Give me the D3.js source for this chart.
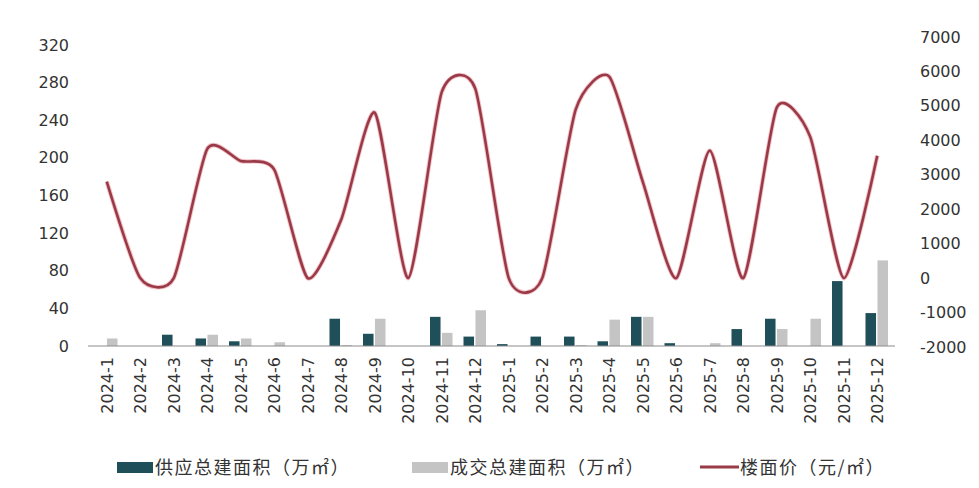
<!DOCTYPE html>
<html>
<head>
<meta charset="utf-8">
<script src="https://cdn.jsdelivr.net/npm/d3@7"></script>
<style>
  body { margin: 0; background: #fff; }
  text { font-family: "DejaVu Sans", sans-serif; fill: #333; }
  .cjk { font-family: "Noto Sans CJK SC", sans-serif; letter-spacing: 1.5px; }
</style>
</head>
<body>
<svg id="chart" width="979" height="488"></svg>
<script>
// months on the x axis
const months = ['2024-1','2024-2','2024-3','2024-4','2024-5','2024-6','2024-7','2024-8','2024-9','2024-10','2024-11','2024-12',
  '2025-1','2025-2','2025-3','2025-4','2025-5','2025-6','2025-7','2025-8','2025-9','2025-10','2025-11','2025-12'];
// 供应总建面积 (万㎡)
const supply = [0, 0, 12, 8, 5, 0, 0, 29, 13, 0, 31, 10, 2, 10, 10, 5, 31, 3, 0, 18, 29, 0, 69, 35];
// 成交总建面积 (万㎡)
const deal = [8, 0, 0, 12, 8, 4, 0, 1, 29, 0, 14, 38, 0, 0, 1, 28, 31, 0, 3, 0, 18, 29, 0, 91];
// 楼面价 (元/㎡)
const price = [2800, 0, 0, 3750, 3400, 3150, 0, 1700, 4800, 0, 5400, 5500, 0, 0, 4900, 5850, 2800, 0, 3700, 0, 4950, 4100, 0, 3550];
const leftTicks = [0, 40, 80, 120, 160, 200, 240, 280, 320];
const rightTicks = [-2000, -1000, 0, 1000, 2000, 3000, 4000, 5000, 6000, 7000];
const legendNames = ['供应总建面积（万㎡）', '成交总建面积（万㎡）', '楼面价（元/㎡）'];

const svg = d3.select('#chart');

const x = d3.scaleBand().domain(months).range([90, 894]);
const x1 = d3.scaleBand().domain(['s', 'd']).range([5, x.bandwidth() - 6]).paddingInner(0.12);
const yL = d3.scaleLinear().domain([0, 320]).range([346, 45]);
const yR = d3.scaleLinear().domain([-2000, 7000]).range([347, 37]);

// left axis labels
svg.append('g').selectAll('text').data(leftTicks).join('text')
  .attr('x', 69).attr('y', d => yL(d)).attr('dy', '0.35em')
  .attr('text-anchor', 'end').style('font-size', '16px')
  .text(d => d);

// right axis labels
svg.append('g').selectAll('text').data(rightTicks).join('text')
  .attr('x', 920).attr('y', d => yR(d)).attr('dy', '0.35em')
  .style('font-size', '16px')
  .text(d => d);

// bars
svg.append('g').selectAll('rect').data(supply).join('rect')
  .attr('x', (d, i) => x(months[i]) + x1('s'))
  .attr('width', x1.bandwidth())
  .attr('y', d => yL(d))
  .attr('height', d => yL(0) - yL(d))
  .attr('fill', '#1f4f59');

svg.append('g').selectAll('rect').data(deal).join('rect')
  .attr('x', (d, i) => x(months[i]) + x1('d'))
  .attr('width', x1.bandwidth())
  .attr('y', d => yL(d))
  .attr('height', d => yL(0) - yL(d))
  .attr('fill', '#c4c4c4');

// baseline
svg.append('line')
  .attr('x1', 88).attr('x2', 895)
  .attr('y1', yL(0)).attr('y2', yL(0))
  .attr('stroke', '#8c8c8c').attr('stroke-width', 1.2);

// price line
const line = d3.line()
  .x((d, i) => x(months[i]) + x.bandwidth() / 2)
  .y(d => yR(d))
  .curve(d3.curveCardinal.tension(0.35));

svg.append('path').datum(price)
  .attr('d', line)
  .attr('fill', 'none')
  .attr('stroke', '#f2c4c8')
  .attr('stroke-width', 4.5);
svg.append('path').datum(price)
  .attr('d', line)
  .attr('fill', 'none')
  .attr('stroke', '#9a3a48')
  .attr('stroke-width', 2.6);

// x labels, rotated
svg.append('g').selectAll('text').data(months).join('text')
  .attr('transform', d => `translate(${x(d) + x.bandwidth() / 2 + 6},357) rotate(-90)`)
  .attr('text-anchor', 'end')
  .style('font-size', '16px')
  .text(d => d);

// legend
const lg = svg.append('g');
lg.append('rect').attr('x', 117).attr('y', 462).attr('width', 36).attr('height', 11).attr('fill', '#1f4f59');
lg.append('text').attr('class', 'cjk').attr('x', 155).attr('y', 468).attr('dy', '0.35em').style('font-size', '18px').text(legendNames[0]);
lg.append('rect').attr('x', 412).attr('y', 462).attr('width', 36).attr('height', 11).attr('fill', '#c4c4c4');
lg.append('text').attr('class', 'cjk').attr('x', 450).attr('y', 468).attr('dy', '0.35em').style('font-size', '18px').text(legendNames[1]);
lg.append('line').attr('x1', 700).attr('x2', 739).attr('y1', 467).attr('y2', 467).attr('stroke', '#9a3a48').attr('stroke-width', 3);
lg.append('text').attr('class', 'cjk').attr('x', 740).attr('y', 468).attr('dy', '0.35em').style('font-size', '18px').text(legendNames[2]);
</script>
</body>
</html>
